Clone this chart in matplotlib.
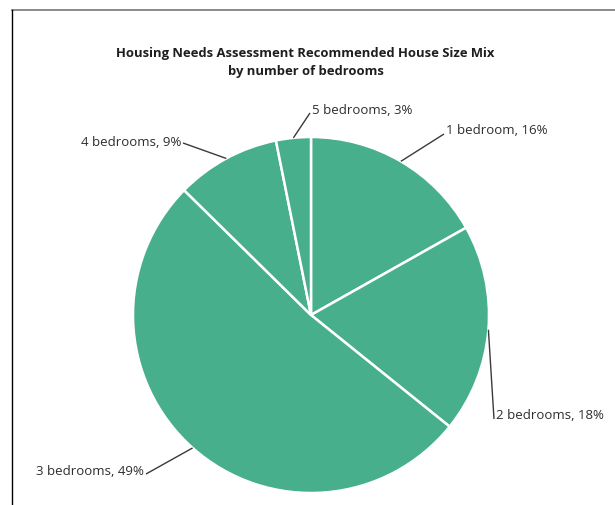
import matplotlib
matplotlib.use("Agg")
import matplotlib.pyplot as plt
import numpy as np

plt.rcParams['font.family'] = ['Open Sans', 'DejaVu Sans']

bedrooms = ["1 bedroom", "2 bedrooms", "3 bedrooms", "4 bedrooms", "5 bedrooms"]
shares = [16, 18, 49, 9, 3]

title = "Housing Needs Assessment Recommended House Size Mix\nby number of bedrooms"
slice_color = "#48af8c"

W, H = 615, 506
CX, CY, R = 311, 316, 178

# label anchor (pixels): text point, line end, alignment
label_pos = [
    ((446, 131), (444, 135), "left"),
    ((496, 416), (494, 420), "left"),
    ((144, 472), (146, 475), "right"),
    ((181, 143), (183, 144), "right"),
    ((312, 111), (310, 114), "left"),
]


def px(x, y):
    return (x - CX) / R, (CY - y) / R


def main():
    fig = plt.figure(figsize=(W / 100, H / 100), dpi=100)
    ax = fig.add_axes([(CX - R) / W, (H - CY - R) / H, 2 * R / W, 2 * R / H])
    wedges, _ = ax.pie(shares, colors=[slice_color] * len(shares), startangle=90,
                       counterclock=False, radius=1,
                       wedgeprops=dict(edgecolor="white", linewidth=1.8))
    ax.set_xlim(-1, 1)
    ax.set_ylim(-1, 1)
    ax.set_aspect("equal")
    ax.axis("off")

    for w, name, val, (tp, lp, ha) in zip(wedges, bedrooms, shares, label_pos):
        ang = np.deg2rad((w.theta1 + w.theta2) / 2)
        start = (np.cos(ang), np.sin(ang))
        tx, ty = px(*tp)
        lx, ly = px(*lp)
        ax.plot([start[0], lx], [start[1], ly], color="#3a3a3a", lw=1.0,
                clip_on=False, solid_capstyle="butt")
        ax.text(tx, ty, f"{name}, {val}%", ha=ha, va="center", fontsize=9.5,
                color="#2e2e2e", clip_on=False)

    fig.text(305.5 / W, 1 - 62.5 / H, title, ha="center", va="center",
             fontsize=9.4, fontweight="bold", color="#1e1e1e", linespacing=1.55)

    # frame
    fig.add_artist(plt.Line2D([12 / W, 1], [1 - 11 / H] * 2, color="#777777", lw=1.2))
    fig.add_artist(plt.Line2D([12 / W] * 2, [0, 1 - 11 / H], color="black", lw=1.0))

    fig.savefig("out.png", dpi=100)


if __name__ == '__main__':
    main()
